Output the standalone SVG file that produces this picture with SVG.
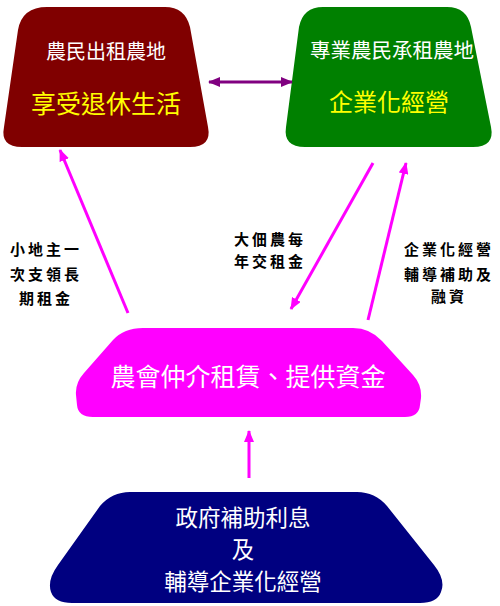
<svg xmlns="http://www.w3.org/2000/svg" width="500" height="606" viewBox="0 0 500 606">
<defs>
<style>
.t{font-family:"Noto Sans CJK TC","Noto Sans CJK SC",sans-serif;text-anchor:middle;dominant-baseline:central}
.w{fill:#ffffff}
.y{fill:#ffff00}
.lab{font-family:"Noto Sans CJK TC","Noto Sans CJK SC",sans-serif;font-weight:bold;font-size:15px;letter-spacing:3px;fill:#000;text-anchor:middle;dominant-baseline:central}
.pk{stroke:#ff00ff;stroke-width:3;fill:none}
.pu{stroke:#800080;stroke-width:3;fill:none}
</style>
<marker id="ah" viewBox="0 0 12 10" refX="11" refY="5" markerWidth="12" markerHeight="10" markerUnits="userSpaceOnUse" orient="auto-start-reverse">
<path d="M0,0 L12,5 L0,10 Z" fill="#ff00ff"/>
</marker>
<marker id="ahp" viewBox="0 0 12 10" refX="11" refY="5" markerWidth="12" markerHeight="10" markerUnits="userSpaceOnUse" orient="auto-start-reverse">
<path d="M0,0 L12,5 L0,10 Z" fill="#800080"/>
</marker>
</defs>
<rect width="500" height="606" fill="#ffffff"/>
<g id="node-landlord">
<path d="M47,7 L165,7 Q185,7 190,27 L208,127 Q212,147 190,147 L22,147 Q0,147 4,127 L18,30 Q22,7 47,7 Z" fill="#800000"/>
<text class="t w" x="106" y="50" font-size="20">農民出租農地</text>
<text class="t y" x="106" y="102" font-size="25">享受退休生活</text>
</g>
<g id="node-tenant">
<path d="M323,7 L447,7 Q467,7 471,27 L491,127 Q495,147 473,147 L305,147 Q283,147 286,127 L299,27 Q303,7 323,7 Z" fill="#008000"/>
<text class="t w" x="392" y="49" font-size="20.5">專業農民承租農地</text>
<text class="t y" x="389" y="100" font-size="24">企業化經營</text>
</g>
<g id="node-association">
<path d="M143,328 L353,328 Q370,328 382,341 L413,375 Q422,385 421,398 L420,405 Q419,417 405,417 L93,417 Q78,417 77,405 L76,395 Q75,383 84,373 L113,340 Q124,328 143,328 Z" fill="#ff00ff"/>
<text class="t w" x="248" y="375" font-size="25">農會仲介租賃、提供資金</text>
</g>
<g id="node-government">
<path d="M130,492 L357,492 Q375,492 387,506 L434,565 Q446,580 441,592 Q437,603 420,603 L72,603 Q55,603 51,592 Q47,580 58,565 L100,506 Q112,492 130,492 Z" fill="#000080"/>
<text class="t w" x="243" y="516" font-size="22.5">政府補助利息</text>
<text class="t w" x="243" y="548" font-size="22.5">及</text>
<text class="t w" x="243" y="580" font-size="22.5">輔導企業化經營</text>
</g>
<g id="connectors">
<line class="pu" x1="209" y1="82" x2="292" y2="82" marker-start="url(#ahp)" marker-end="url(#ahp)"/>
<line class="pk" x1="128" y1="313" x2="60" y2="150" marker-end="url(#ah)"/>
<line class="pk" x1="373" y1="163" x2="291" y2="309" marker-end="url(#ah)"/>
<line class="pk" x1="368" y1="320" x2="406" y2="163" marker-end="url(#ah)"/>
<line class="pk" x1="249" y1="478" x2="249" y2="431" marker-end="url(#ah)"/>
</g>
<g id="labels">
<text class="lab" x="46" y="248">小地主一</text>
<text class="lab" x="46" y="273">次支領長</text>
<text class="lab" x="46" y="297">期租金</text>
<text class="lab" x="270" y="238">大佃農每</text>
<text class="lab" x="270" y="260">年交租金</text>
<text class="lab" x="449" y="248">企業化經營</text>
<text class="lab" x="449" y="273">輔導補助及</text>
<text class="lab" x="449" y="295">融資</text>
</g>
</svg>
